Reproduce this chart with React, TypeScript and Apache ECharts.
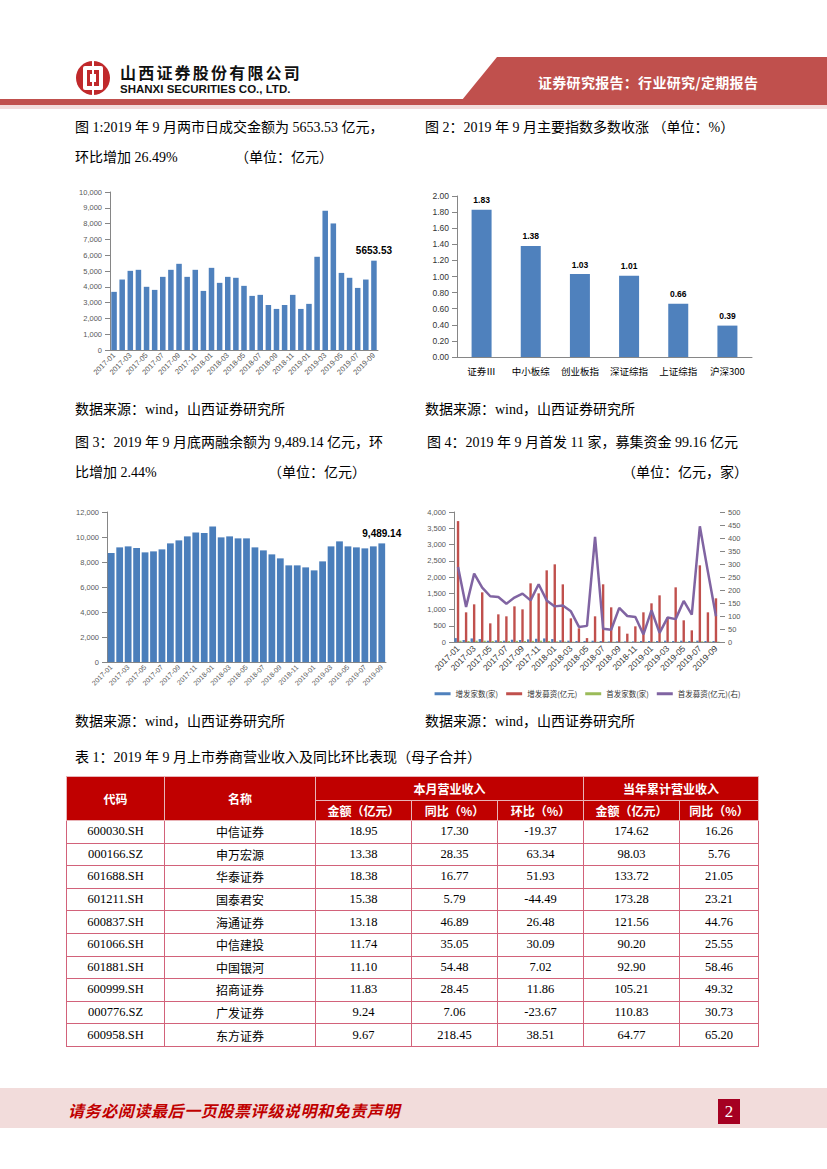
import React, { useEffect, useRef } from "react";
import * as echarts from "echarts";

// ---------- DATA ----------
const months: string[] = [
  "2017-01","2017-02","2017-03","2017-04","2017-05","2017-06","2017-07","2017-08","2017-09","2017-10","2017-11","2017-12",
  "2018-01","2018-02","2018-03","2018-04","2018-05","2018-06","2018-07","2018-08","2018-09","2018-10","2018-11","2018-12",
  "2019-01","2019-02","2019-03","2019-04","2019-05","2019-06","2019-07","2019-08","2019-09",
];

// 图1 两市日成交金额（亿元）
const turnover: number[] = [
  3680, 4460, 5010, 5075, 4000, 3805, 4630, 5075, 5455, 4630, 5075, 3740,
  5200, 4250, 4630, 4570, 4060, 3425, 3490, 2850, 2600, 2850, 3490, 2600,
  2920, 5900, 8820, 8010, 4880, 4570, 3930, 4460, 5653.53,
];

// 图2 主要指数涨幅（%）
const indexNames: string[] = ["证券Ⅲ", "中小板综", "创业板指", "深证综指", "上证综指", "沪深300"];
const indexChange: number[] = [1.83, 1.38, 1.03, 1.01, 0.66, 0.39];

// 图3 两融余额（亿元）
const margin: number[] = [
  8720, 9170, 9250, 9120, 8770, 8850, 9010, 9490, 9730, 10050, 10370, 10320,
  10850, 9970, 10050, 9890, 9890, 9170, 8930, 8610, 8290, 7730, 7730, 7570,
  7330, 8050, 9250, 9650, 9250, 9170, 9090, 9250, 9489.14,
];

// 图4 股权融资
const seoCount: number[] = [
  120, 60, 110, 90, 40, 50, 40, 70, 60, 80, 100, 110,
  90, 50, 40, 30, 30, 40, 30, 20, 20, 20, 20, 30,
  30, 30, 40, 30, 40, 30, 40, 30, 30,
];
const seoAmount: number[] = [
  3720, 913, 1159, 1528, 574, 851, 790, 1097, 1005, 1805, 1497, 2205,
  2390, 1774, 728, 420, 120, 790, 1775, 1067, 482, 256, 482, 913,
  1190, 1436, 759, 1682, 667, 359, 2359, 913, 1344,
];
const ipoCount: number[] = [
  40, 30, 40, 40, 30, 30, 30, 35, 30, 35, 40, 30,
  20, 15, 10, 5, 10, 10, 10, 10, 10, 10, 10, 10,
  10, 10, 10, 10, 10, 10, 20, 15, 11,
];
const ipoAmount: number[] = [
  288, 135, 263, 209, 176, 173, 147, 171, 186, 160, 222, 160,
  137, 140, 118, 58, 62, 404, 51, 47, 131, 100, 96, 29,
  122, 35, 94, 88, 158, 105, 445, 270, 99.16,
];
const legend4: string[] = ["增发家数(家)", "增发募资(亿元)", "首发家数(家)", "首发募资(亿元)(右)"];

// 表1
const tableRows: string[][] = [
  ["600030.SH", "中信证券", "18.95", "17.30", "-19.37", "174.62", "16.26"],
  ["000166.SZ", "申万宏源", "13.38", "28.35", "63.34", "98.03", "5.76"],
  ["601688.SH", "华泰证券", "18.38", "16.77", "51.93", "133.72", "21.05"],
  ["601211.SH", "国泰君安", "15.38", "5.79", "-44.49", "173.28", "23.21"],
  ["600837.SH", "海通证券", "13.18", "46.89", "26.48", "121.56", "44.76"],
  ["601066.SH", "中信建投", "11.74", "35.05", "30.09", "90.20", "25.55"],
  ["601881.SH", "中国银河", "11.10", "54.48", "7.02", "92.90", "58.46"],
  ["600999.SH", "招商证券", "11.83", "28.45", "11.86", "105.21", "49.32"],
  ["000776.SZ", "广发证券", "9.24", "7.06", "-23.67", "110.83", "30.73"],
  ["600958.SH", "东方证券", "9.67", "218.45", "38.51", "64.77", "65.20"],
];

// ---------- helpers ----------
const AX = "#868686";
const LBL = "#595959";
const BLUE = "#4F81BD";
const fmtComma = (v: number) => v.toLocaleString("en-US");

function Chart({ option, style }: { option: any; style: React.CSSProperties }) {
  const ref = useRef<HTMLDivElement>(null);
  useEffect(() => {
    if (!ref.current) return;
    const c = echarts.init(ref.current, undefined, { renderer: "svg" });
    c.setOption(option);
    return () => c.dispose();
  }, []);
  return <div ref={ref} style={{ position: "absolute", ...style }} />;
}

const lastLabel = (arr: number[], text: string) =>
  arr.map((v, i) =>
    i === arr.length - 1
      ? { value: v, label: { show: true, position: "top", formatter: text, fontSize: 10, fontWeight: "bold", color: "#000", fontFamily: "Liberation Sans" } }
      : v
  );

const monthAxis = (fontSize: number, color: string) => ({
  type: "category",
  data: months,
  axisLine: { lineStyle: { color: AX } },
  axisTick: { alignWithLabel: false, interval: 1, lineStyle: { color: AX } },
  axisLabel: { interval: 1, rotate: 45, fontSize, color, margin: 4, fontFamily: "Liberation Sans" },
});

const option1 = {
  animation: false,
  grid: { left: 40, top: 12, right: 32, bottom: 45 },
  xAxis: monthAxis(7.5, LBL),
  yAxis: {
    type: "value", min: 0, max: 10000, interval: 1000,
    axisLine: { show: true, lineStyle: { color: AX } },
    axisTick: { show: true, lineStyle: { color: AX } },
    splitLine: { show: false },
    axisLabel: { fontSize: 7.5, color: LBL, formatter: fmtComma, fontFamily: "Liberation Sans" },
  },
  series: [{ type: "bar", data: lastLabel(turnover, "5653.53"), barCategoryGap: "32%", itemStyle: { color: BLUE } }],
};

const option2 = {
  animation: false,
  grid: { left: 42, top: 11, right: 8, bottom: 28 },
  xAxis: {
    type: "category", data: indexNames,
    axisLine: { lineStyle: { color: AX } },
    axisTick: { lineStyle: { color: AX } },
    axisLabel: { interval: 0, fontSize: 9.5, color: "#000", margin: 9, fontFamily: "Noto Sans CJK SC" },
  },
  yAxis: {
    type: "value", min: 0, max: 2, interval: 0.2,
    axisLine: { show: true, lineStyle: { color: AX } },
    axisTick: { show: true, lineStyle: { color: AX } },
    splitLine: { show: false },
    axisLabel: { fontSize: 8.5, color: "#333", formatter: (v: number) => v.toFixed(2), fontFamily: "Liberation Sans" },
  },
  series: [{
    type: "bar", data: indexChange, barWidth: 20, itemStyle: { color: BLUE },
    label: { show: true, position: "top", fontSize: 8.5, fontWeight: "bold", color: "#000", formatter: (p: any) => p.value.toFixed(2), fontFamily: "Liberation Sans" },
  }],
};

const option3 = {
  animation: false,
  grid: { left: 37, top: 17, right: 34, bottom: 33 },
  xAxis: monthAxis(7, LBL),
  yAxis: {
    type: "value", min: 0, max: 12000, interval: 2000,
    axisLine: { show: true, lineStyle: { color: AX } },
    axisTick: { show: true, lineStyle: { color: AX } },
    splitLine: { show: false },
    axisLabel: { fontSize: 7.5, color: LBL, formatter: fmtComma, fontFamily: "Liberation Sans" },
  },
  series: [{ type: "bar", data: lastLabel(margin, "9,489.14"), barCategoryGap: "20%", itemStyle: { color: "#4A7EBB" } }],
};

const option4 = {
  animation: false,
  grid: { left: 39, top: 17, right: 40, bottom: 63 },
  legend: {
    left: "center", top: 190, icon: "rect", itemWidth: 16, itemHeight: 3, itemGap: 8,
    textStyle: { fontSize: 7.5, color: "#333", fontFamily: "Noto Sans CJK SC" },
    data: legend4,
  },
  xAxis: { ...monthAxis(8.5, "#333"), axisLabel: { interval: 1, rotate: 45, fontSize: 8.5, color: "#333", margin: 5, fontFamily: "Liberation Sans" } },
  yAxis: [
    {
      type: "value", min: 0, max: 4000, interval: 500,
      axisLine: { show: true, lineStyle: { color: AX } },
      axisTick: { show: true, lineStyle: { color: AX } },
      splitLine: { show: false },
      axisLabel: { fontSize: 7.5, color: LBL, formatter: fmtComma, fontFamily: "Liberation Sans" },
    },
    {
      type: "value", min: 0, max: 500, interval: 50, position: "right",
      axisLine: { show: false },
      axisTick: { show: true, lineStyle: { color: AX } },
      splitLine: { show: false },
      axisLabel: { fontSize: 7.5, color: LBL, fontFamily: "Liberation Sans" },
    },
  ],
  series: [
    { name: legend4[0], type: "bar", data: seoCount, barWidth: 2.4, barGap: "0%", itemStyle: { color: BLUE } },
    { name: legend4[1], type: "bar", data: seoAmount, barWidth: 2.4, barGap: "0%", itemStyle: { color: "#C0504D" } },
    { name: legend4[2], type: "bar", data: ipoCount, barWidth: 2.4, barGap: "0%", itemStyle: { color: "#9BBB59" } },
    { name: legend4[3], type: "line", yAxisIndex: 1, data: ipoAmount, showSymbol: false, symbol: "none", lineStyle: { color: "#8064A2", width: 2.5 }, itemStyle: { color: "#8064A2" } },
  ],
};

// ---------- page ----------
const SERIF = "'Liberation Serif', 'Noto Sans CJK SC', serif";
const CJK = "'Noto Sans CJK SC', sans-serif";

function T({ x, y, children, size = 14, style }: { x: number; y: number; children: any; size?: number; style?: React.CSSProperties }) {
  return (
    <div style={{ position: "absolute", left: x, top: y - 10, height: 20, lineHeight: "20px", fontSize: size, fontFamily: SERIF, color: "#000", whiteSpace: "pre", ...style }}>
      {children}
    </div>
  );
}

const colW = [98, 151, 96, 86, 86, 96, 79];

export default function App() {
  const th: React.CSSProperties = {
    background: "#C00000", color: "#fff", fontWeight: "bold", fontFamily: CJK, fontSize: 12,
    border: "1px solid #E8B4B8", textAlign: "center", padding: 0,
  };
  const td: React.CSSProperties = {
    border: "1px solid #D2627A", textAlign: "center", padding: 0, fontFamily: SERIF, fontSize: 12.5, color: "#000", height: 21.6,
  };
  return (
    <div style={{ position: "absolute", left: 0, top: 0, width: 827, height: 1169, background: "#fff", overflow: "hidden" }}>
      {/* header */}
      <svg width={827} height={112} style={{ position: "absolute", left: 0, top: 0 }}>
        <polygon points="462,100 497,57 827,57 827,100" fill="#C0504D" />
        <rect x={0} y={99} width={827} height={6} fill="#C0504D" />
        <rect x={0} y={105} width={827} height={4} fill="#F2DCDB" />
        <circle cx={93} cy={78} r={17} fill="#C0292B" />
        <rect x={83} y={66} width={20} height={24} rx={2} fill="#fff" />
        <rect x={87} y={70} width={12} height={16} fill="#C0292B" />
        <rect x={90} y={74} width={6} height={8} fill="#fff" />
        <rect x={92} y={60} width={2} height={36} fill="#fff" />
      </svg>
      <div style={{ position: "absolute", left: 120, top: 62, fontFamily: CJK, fontWeight: "bold", fontSize: 16, letterSpacing: 2.2, lineHeight: "20px", color: "#111" }}>
        山西证券股份有限公司
      </div>
      <div style={{ position: "absolute", left: 120, top: 81, fontFamily: "'Liberation Sans', Arial", fontWeight: "bold", fontSize: 11.5, lineHeight: "16px", color: "#111" }}>
        SHANXI SECURITIES CO., LTD.
      </div>
      <div style={{ position: "absolute", left: 538, top: 72, fontFamily: CJK, fontWeight: "bold", fontSize: 14, lineHeight: "20px", color: "#fff", letterSpacing: 0.3 }}>
        证券研究报告：行业研究/定期报告
      </div>

      {/* titles */}
      <T x={75} y={128}>图 1:2019 年 9 月两市日成交金额为 5653.53 亿元，</T>
      <T x={75} y={158}>环比增加 26.49%</T>
      <T x={235} y={158}>（单位：亿元）</T>
      <T x={425} y={128}>图 2：2019 年 9 月主要指数多数收涨 （单位：%）</T>

      <Chart option={option1} style={{ left: 70, top: 180, width: 340, height: 215 }} />
      <Chart option={option2} style={{ left: 415, top: 185, width: 345, height: 200 }} />

      <T x={75} y={410}>数据来源：wind，山西证券研究所</T>
      <T x={425} y={410}>数据来源：wind，山西证券研究所</T>
      <T x={75} y={443}>图 3：2019 年 9 月底两融余额为 9,489.14 亿元，环</T>
      <T x={75} y={473}>比增加 2.44%</T>
      <T x={268} y={473}>（单位：亿元）</T>
      <T x={427} y={443}>图 4：2019 年 9 月首发 11 家，募集资金 99.16 亿元</T>
      <T x={622} y={473}>（单位：亿元，家）</T>

      <Chart option={option3} style={{ left: 70, top: 495, width: 420 - 70, height: 200 }} />
      <Chart option={option4} style={{ left: 415, top: 495, width: 345, height: 210 }} />

      <T x={75} y={722}>数据来源：wind，山西证券研究所</T>
      <T x={425} y={722}>数据来源：wind，山西证券研究所</T>
      <T x={75} y={758}>表 1：2019 年 9 月上市券商营业收入及同比环比表现（母子合并）</T>

      {/* table */}
      <table style={{ position: "absolute", left: 66, top: 776, borderCollapse: "collapse", tableLayout: "fixed", width: colW.reduce((a, b) => a + b, 0) }}>
        <colgroup>
          {colW.map((w, i) => <col key={i} style={{ width: w }} />)}
        </colgroup>
        <tbody>
          <tr style={{ height: 24 }}>
            <td rowSpan={2} style={th}>代码</td>
            <td rowSpan={2} style={th}>名称</td>
            <td colSpan={3} style={th}>本月营业收入</td>
            <td colSpan={2} style={th}>当年累计营业收入</td>
          </tr>
          <tr style={{ height: 20 }}>
            <td style={th}>金额（亿元）</td>
            <td style={th}>同比（%）</td>
            <td style={th}>环比（%）</td>
            <td style={th}>金额（亿元）</td>
            <td style={th}>同比（%）</td>
          </tr>
          {tableRows.map((r, i) => (
            <tr key={i} style={{ height: 22.6 }}>
              {r.map((c, j) => (
                <td key={j} style={j === 1 ? { ...td, fontFamily: CJK, fontSize: 12 } : td}>{c}</td>
              ))}
            </tr>
          ))}
        </tbody>
      </table>

      {/* footer */}
      <div style={{ position: "absolute", left: 0, top: 1088, width: 827, height: 40, background: "#F2DCDB" }} />
      <div style={{ position: "absolute", left: 68, top: 1100, fontFamily: CJK, fontWeight: "bold", fontSize: 16, lineHeight: "20px", color: "#C00000", letterSpacing: 0.6, fontStyle: "italic" }}>
        请务必阅读最后一页股票评级说明和免责声明
      </div>
      <div style={{ position: "absolute", left: 718, top: 1099, width: 22, height: 25, background: "#A50021", color: "#fff", fontFamily: "'Liberation Serif', serif", fontSize: 17, lineHeight: "25px", textAlign: "center" }}>
        2
      </div>
    </div>
  );
}
